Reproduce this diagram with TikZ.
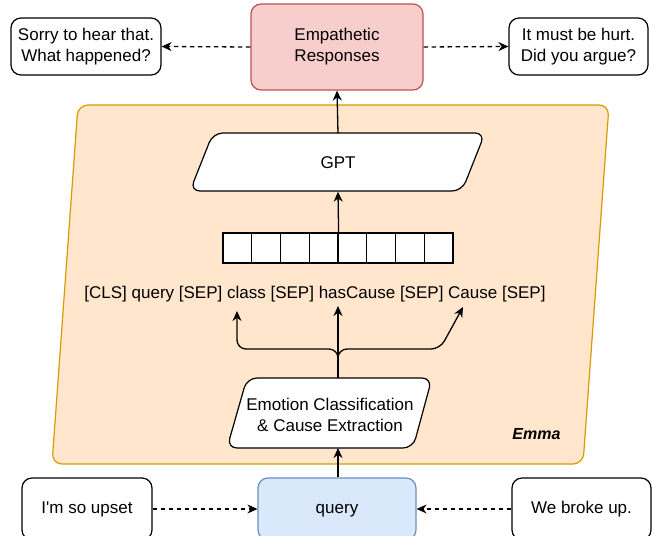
\documentclass[tikz,border=0pt]{standalone}
\usepackage{fontspec}
\setmainfont{Liberation Sans}[Ligatures=TeXOff]
\usetikzlibrary{arrows.meta}
\definecolor{redfill}{HTML}{F8CECC}
\definecolor{redline}{HTML}{B85450}
\definecolor{orangefill}{HTML}{FFE6CC}
\definecolor{orangeline}{HTML}{D79B00}
\definecolor{bluefill}{HTML}{DAE8FC}
\definecolor{blueline}{HTML}{6C8EBF}
\begin{document}
\begin{tikzpicture}[x=1pt,y=-1pt, font=\fontsize{17}{21}\selectfont,
  box/.style={draw, rounded corners=10pt, line width=1.2pt, align=center, inner sep=0pt, fill=white},
  plain/.style={align=center, inner sep=0pt},
  inkdown/.style={execute at begin node={\rule{0pt}{#1}}},
  arr/.style={-{Stealth[length=10pt,width=9pt]}, line width=1.3pt},
  darr/.style={arr, dash pattern=on 4.5pt off 3.5pt}]
\useasboundingbox (0,0) rectangle (655,535);
% container
\draw[draw=orangeline, fill=orangefill, rounded corners=10pt, line width=1.2pt]
  (78,105) -- (609,105) -- (583,464) -- (52,464) -- cycle;
\node[font=\fontsize{16}{18}\selectfont\bfseries\itshape, anchor=east] (emmalabel) at (564,434) {Emma};
% top
\node[box, inkdown=18pt, fill=redfill, draw=redline, minimum width=172pt, minimum height=86pt] (er) at (337,47) {Empathetic\\Responses};
\node[box, inkdown=18pt, minimum width=150pt, minimum height=57pt] (sorry) at (86,46.5) {Sorry to hear that.\\What happened?};
\node[box, inkdown=18pt, minimum width=139pt, minimum height=57pt] (hurt) at (578.5,46.5) {It must be hurt.\\Did you argue?};
% GPT
\draw[fill=white, rounded corners=10pt, line width=1.2pt]
  (213,133) -- (485,133) -- (462,191) -- (190,191) -- cycle;
\node[plain, minimum width=200pt, minimum height=58pt] (gpt) at (338,162.5) {GPT};
% array
\foreach \i in {1,...,8}
  \node[draw, fill=white, line width=1.2pt, minimum width=28.75pt, minimum height=30pt, inner sep=0pt]
    (c\i) at ({223+28.75*(\i-0.5)},248) {};
% tokens
\node[plain] (tokens) at (315,294) {[CLS] query [SEP] class [SEP] hasCause [SEP] Cause [SEP]};
% EC
\draw[fill=white, rounded corners=10pt, line width=1.2pt]
  (247,378) -- (432,378) -- (413,448) -- (227,448) -- cycle;
\node[plain, minimum width=170pt, minimum height=70pt] (ec) at (330,414.5) {Emotion Classification\\\& Cause Extraction};
% bottom
\node[box, inkdown=12.5pt, fill=bluefill, draw=blueline, minimum width=158pt, minimum height=62pt] (query) at (337,509) {query};
\node[box, minimum width=130pt, minimum height=62pt] (upset) at (87,509) {I'm so upset};
\node[box, minimum width=139pt, minimum height=62pt] (broke) at (581.5,509) {We broke up.};
% coordinates
\coordinate (trunk) at (338,378);
\coordinate (split) at (338,365);
\coordinate (tL) at (237,311);
\coordinate (tM) at (338,306);
\coordinate (tR) at (463,307);
% connectors
\draw[darr] (er.west) -- (sorry.east);
\draw[darr] (er.east) -- (hurt.west);
\draw[darr] (upset.east) -- (query.west);
\draw[darr] (broke.west) -- (query.east);
\draw[arr] (query.north -| trunk) -- (trunk |- 0,448);
\draw[arr] (trunk) -- (tM);
\draw[arr, rounded corners=9pt] (split) |- (237,349) -- (tL);
\draw[arr, rounded corners=9pt] (split) |- (440,349) -- (tR);
\draw[arr] (c4.north east) -- (gpt.south);
\draw[arr] (gpt.north) -- (er.south);
\end{tikzpicture}
\end{document}
